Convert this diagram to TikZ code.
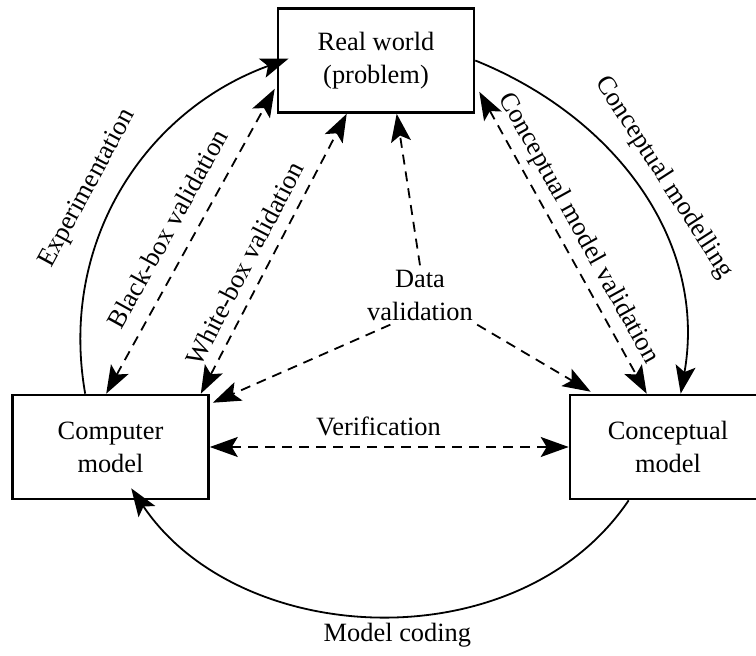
\documentclass[tikz,border=0pt]{standalone}
\usepackage{fontspec}
\setmainfont{Liberation Serif}
\usetikzlibrary{positioning, arrows.meta, calc}
\tikzset{
    box/.style = {draw, line width=1.3pt, minimum width=98pt,
                  minimum height=52pt, align=center, inner sep=0pt},
    arrow/.style = {-{Stealth[length=14pt, width=10pt, inset=3pt]}, line width=0.9pt},
    twoway/.style = {{Stealth[length=14pt, width=10pt, inset=3pt]}-{Stealth[length=14pt, width=10pt, inset=3pt]},
                     line width=0.9pt},
    dashline/.style = {dash pattern=on 5pt off 3.5pt},
    lbl/.style = {inner sep=2pt, sloped},
}

\begin{document}
\begin{tikzpicture}[x=0.5pt, y=0.5pt, font=\fontsize{13.2}{16.5}\selectfont]
        \useasboundingbox (0,0) rectangle (756,655);
        % the three models
        \node[box] (real) at (376,594.5) {Real world\\(problem)};
        \node[box] (comp) at (110.5,208) {Computer\\model};
        \node[box] (concept) at (668,208) {Conceptual\\model};
        \node[align=center, inner sep=2pt] (data) at (420,360) {Data\\validation};
        % solid cycle
        \draw[arrow] ($(comp.north west)+(74,0)$) to[out=100, in=200]
              node[lbl, above=7pt, pos=0.46] {Experimentation} ($(real.west)+(12,2)$);
        \draw[arrow] (real.east) to[out=-22, in=80]
              node[lbl, above=5pt, pos=0.5] {Conceptual modelling} ($(concept.north west)+(112,0)$);
        \draw[arrow] ($(concept.south west)+(60,0)$) to[out=236, in=-56]
              node[below, pos=0.47] {Model coding} ($(comp.south west)+(120,12)$);
        % validation and verification
        \draw[twoway, dashline] (comp.east) -- node[above=2pt, pos=0.47] {Verification} (concept.west);
        \draw[twoway, dashline] ($(comp.north west)+(95,0)$) --
              node[lbl, above=6pt, pos=0.5] {Black-box validation} ($(real.south west)+(-2,25)$);
        \draw[twoway, dashline] ($(comp.north east)+(-9,0)$) --
              node[lbl, above=3.5pt, pos=0.43] {White-box validation} ($(real.south west)+(70,0)$);
        \draw[twoway, dashline] ($(real.south east)+(4,22)$) --
              node[lbl, above=1.75pt, pos=0.485] {Conceptual model validation} ($(concept.north west)+(78,0)$);
        % data validation
        \draw[arrow, dashline] (data.north) -- ($(real.south west)+(120,0)$);
        \draw[arrow, dashline] (data.225) -- ($(comp.north east)+(3,-9)$);
        \draw[arrow, dashline] (data.south east) -- ($(concept.north west)+(22,2)$);
      \end{tikzpicture}
\end{document}
